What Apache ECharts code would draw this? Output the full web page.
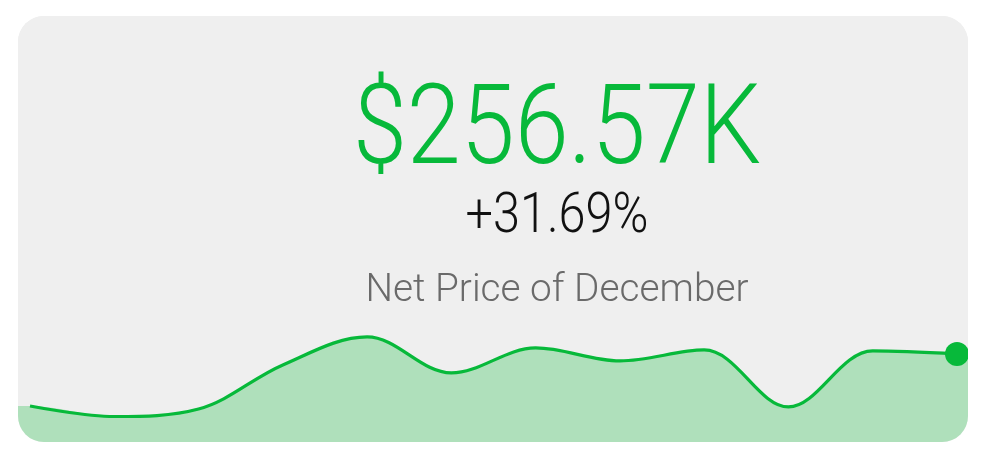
<!DOCTYPE html>
<html>
<head>
<meta charset="utf-8">
<script src="https://cdn.jsdelivr.net/npm/echarts@6/dist/echarts.min.js"></script>
<style>
  html, body { margin: 0; padding: 0; background: #ffffff; width: 986px; height: 464px; overflow: hidden; }
  #card { position: absolute; left: 18px; top: 16px; width: 950px; height: 426px; border-radius: 26px; overflow: hidden; background: #efefef; }
</style>
</head>
<body>
<div id="card"></div>
<script>
// Data (values in $K)
const months = ['Jan','Feb','Mar','Apr','May','Jun','Jul','Aug','Sep','Oct','Nov','Dec'];
const netPrice = [194.8, 182.3, 191.2, 243.5, 276.8, 234.0, 263.7, 248.3, 261.3, 193.6, 260.1, 256.57];
const kpiValue = '$256.57K';
const kpiChange = '+31.69%';
const kpiLabel = 'Net Price of December';

const green = '#07b93a';
const lastIdx = netPrice.length - 1;
const xMin = -0.1424, xMax = 11.1305;

const linePts = netPrice.map((v, i) => [i, v]);
const areaPts = [[xMin, netPrice[0]]].concat(linePts, [[xMax, netPrice[lastIdx]]]);

const chart = echarts.init(document.getElementById('card'), null, { renderer: 'canvas' });
const font = 'Roboto';
chart.setOption({
  animation: false,
  backgroundColor: '#efefef',
  grid: { left: 0, right: 0, top: 314, bottom: 0 },
  xAxis: { type: 'value', min: xMin, max: xMax, show: false },
  yAxis: { type: 'value', min: 152, max: 285, show: false },
  graphic: [
    { type: 'text', x: 539, y: 119, scaleX: 0.868, style: { text: kpiValue, fill: green, font: '300 112px ' + font, textAlign: 'center', textVerticalAlign: 'middle' } },
    { type: 'text', x: 539, y: 202, scaleX: 0.868, style: { text: kpiChange, fill: '#111111', font: '300 56px ' + font, textAlign: 'center', textVerticalAlign: 'middle' } },
    { type: 'text', x: 539, y: 275, scaleX: 1.02, style: { text: kpiLabel, fill: '#6a6a6a', font: '300 38px ' + font, textAlign: 'center', textVerticalAlign: 'middle' } }
  ],
  series: [
    {
      type: 'line', data: areaPts, smooth: 0.35, showSymbol: false,
      lineStyle: { width: 0 }, areaStyle: { color: '#afe0bb', opacity: 1 }, z: 1
    },
    {
      type: 'line', data: linePts, smooth: 0.35, showSymbol: true, showAllSymbol: true,
      symbol: 'circle',
      symbolSize: (v, p) => p.dataIndex === lastIdx ? 24 : 0,
      itemStyle: { color: green },
      lineStyle: { width: 3.2, color: green }, z: 2
    }
  ]
});
</script>
</body>
</html>
